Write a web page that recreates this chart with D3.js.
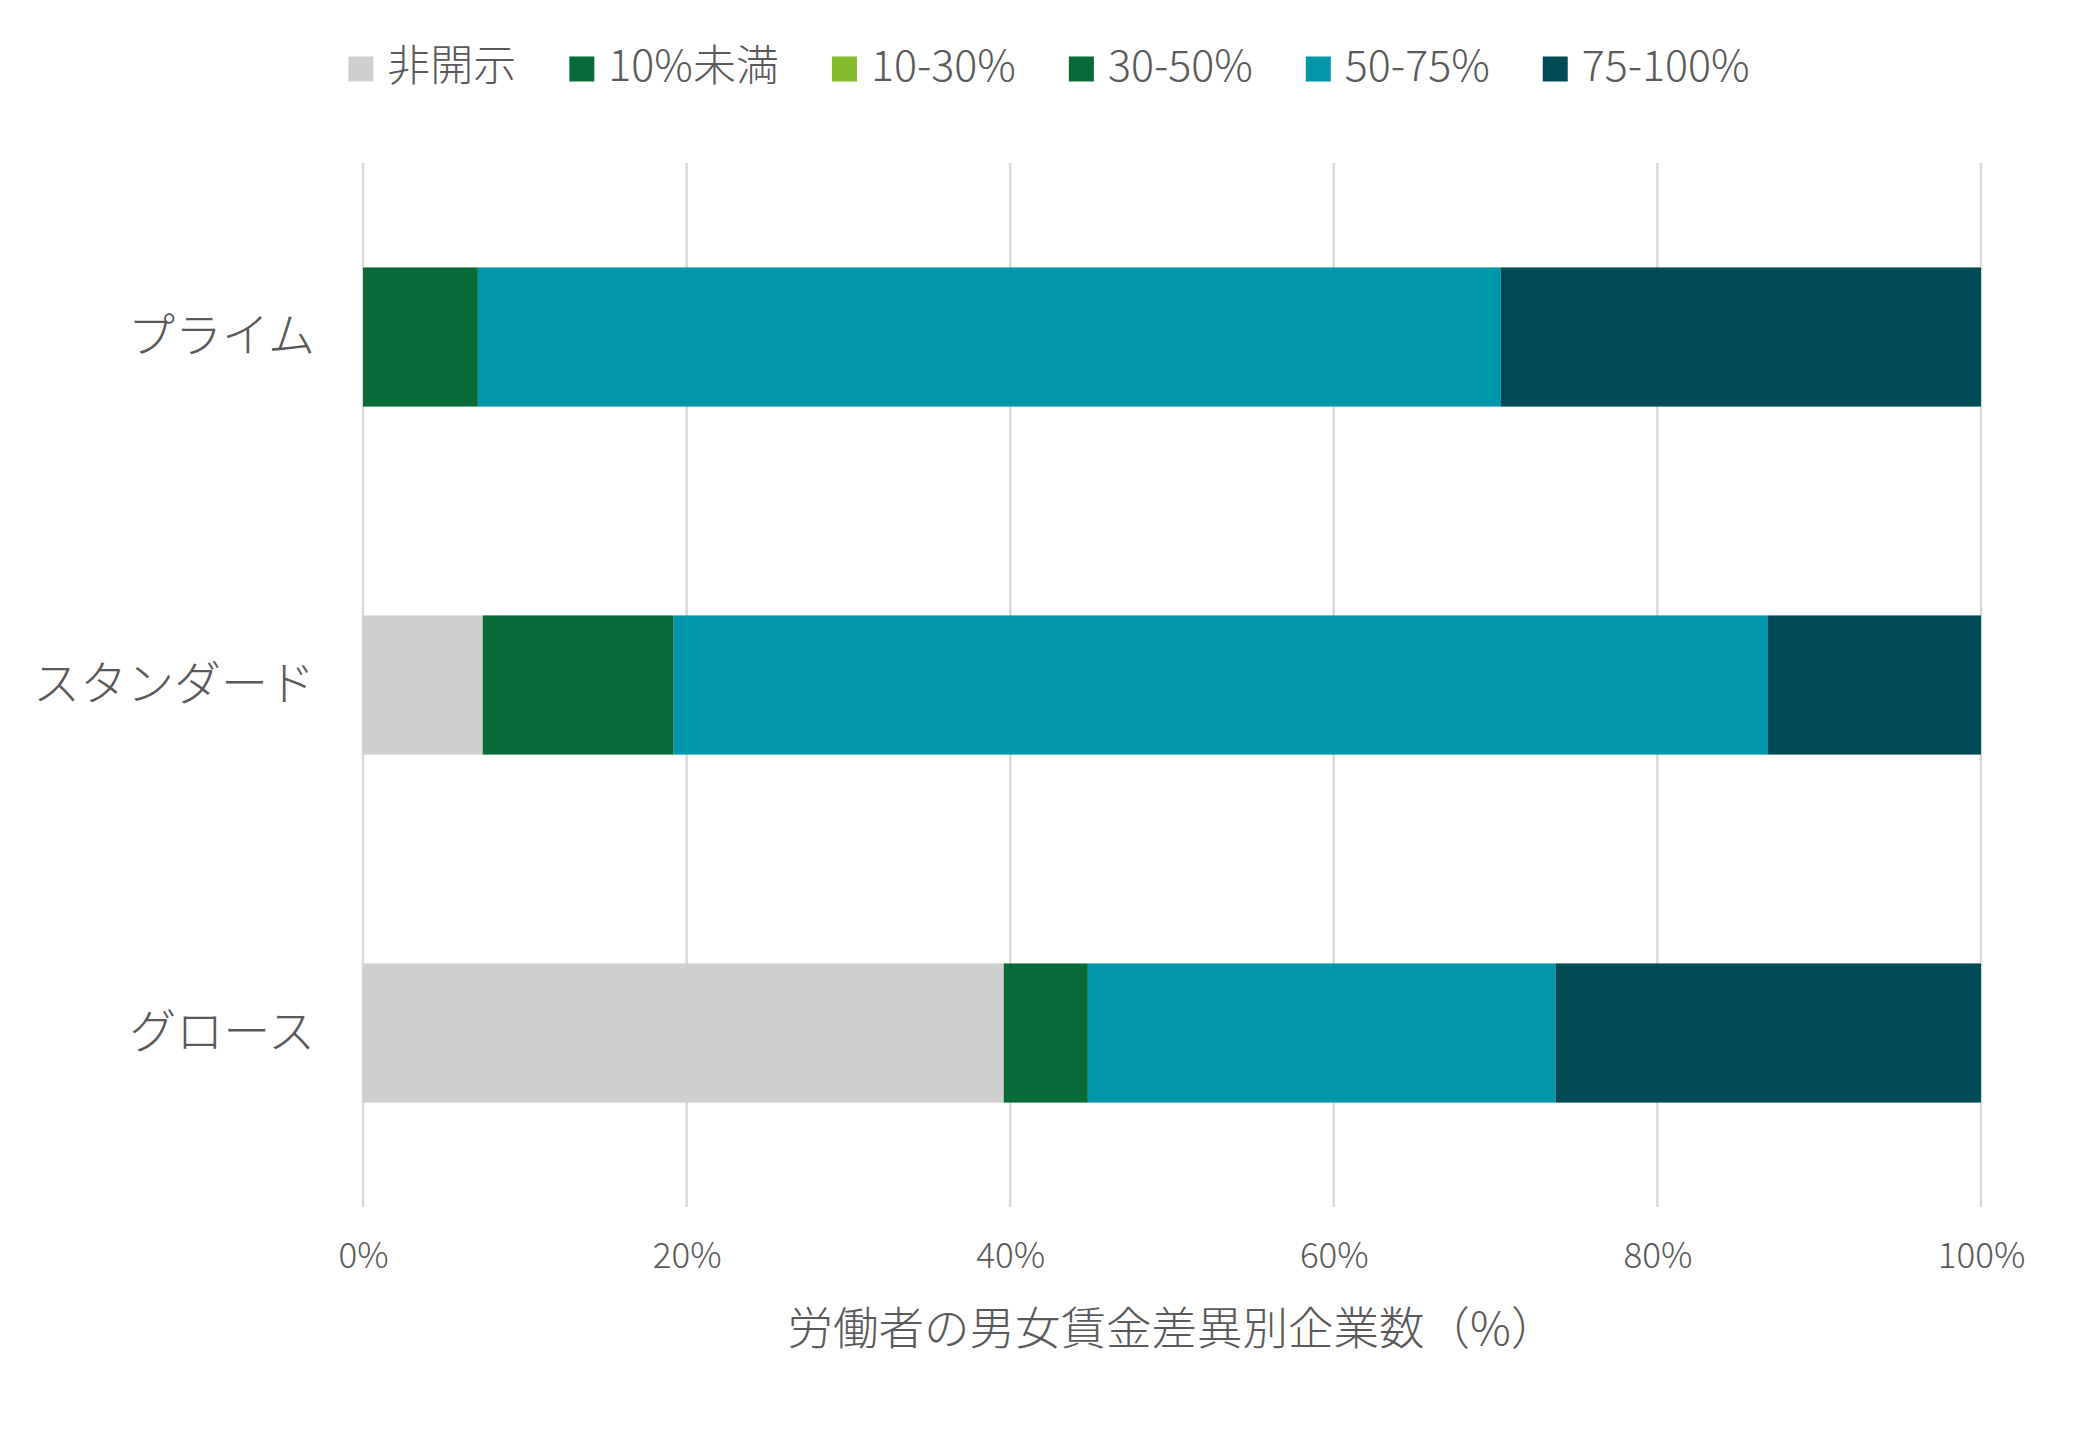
<!DOCTYPE html>
<html>
<head>
<meta charset="utf-8">
<script src="https://cdn.jsdelivr.net/npm/d3@7"></script>
<style>
  body { margin: 0; background: #fff; }
  text { font-family: "Noto Sans CJK JP", "Noto Sans", sans-serif; fill: #595959; font-weight: 300; }
</style>
</head>
<body>
<div id="chart"></div>
<script>
// categories (top to bottom)
const markets = ['プライム', 'スタンダード', 'グロース'];
const seriesNames = ['非開示', '10%未満', '10-30%', '30-50%', '50-75%', '75-100%'];
const seriesColors = ['#d0cfd0', '#076a37', '#84bb2b', '#076a37', '#0197aa', '#014b56'];
// share of companies (%) per market, one array per series
const hidden   = [0.0, 7.4, 39.6];
const under10  = [0.0, 0.0, 0.0];
const from10   = [0.0, 0.0, 0.0];
const from30   = [7.1, 11.8, 5.2];
const from50   = [63.2, 67.6, 28.9];
const from75   = [29.7, 13.2, 26.3];
const xTicks = [0, 20, 40, 60, 80, 100];
const xTitle = '労働者の男女賃金差異別企業数（%）';

const W = 2079, H = 1429;
const margin = { top: 163, right: 98, bottom: 222, left: 363 };
const innerW = W - margin.left - margin.right;
const innerH = H - margin.top - margin.bottom;

const values = [hidden, under10, from10, from30, from50, from75];
const rows = markets.map((m, i) => {
    const row = { market: m };
    seriesNames.forEach((s, j) => { row[s] = values[j][i]; });
    return row;
});
const stacked = d3.stack().keys(seriesNames)(rows);

const x = d3.scaleLinear().domain([0, 100]).range([0, innerW]);
const y = d3.scaleBand().domain(markets).range([0, innerH]).paddingInner(0.6).paddingOuter(0.3);
const color = d3.scaleOrdinal().domain(seriesNames).range(seriesColors);

const svg = d3.select('#chart').append('svg')
    .attr('width', W)
    .attr('height', H);

const g = svg.append('g')
    .attr('transform', `translate(${margin.left}, ${margin.top})`);

/** grid lines */
g.selectAll('line.grid')
    .data(xTicks)
    .enter()
    .append('line')
    .attr('class', 'grid')
    .attr('x1', d => x(d))
    .attr('x2', d => x(d))
    .attr('y1', 0)
    .attr('y2', innerH)
    .style('stroke', '#d9d9d9')
    .style('stroke-width', 2.5);

/** stacked bars */
g.selectAll('g.series')
    .data(stacked)
    .enter()
    .append('g')
    .attr('class', 'series')
    .attr('fill', d => color(d.key))
    .selectAll('rect')
    .data(d => d)
    .enter()
    .append('rect')
    .attr('x', d => x(d[0]))
    .attr('width', d => x(d[1]) - x(d[0]))
    .attr('y', d => y(d.data.market))
    .attr('height', y.bandwidth());

/** x axis labels */
const xAxis = g.append('g')
    .attr('transform', `translate(0, ${innerH})`)
    .call(d3.axisBottom(x).tickValues(xTicks).tickFormat(d => d + '%').tickSize(0).tickPadding(36));
xAxis.select('.domain').remove();
xAxis.selectAll('text')
    .style('font-size', '35px')
    .style('fill', '#595959');

/** category labels */
const yAxis = g.append('g')
    .call(d3.axisLeft(y).tickSize(0).tickPadding(48));
yAxis.select('.domain').remove();
yAxis.selectAll('text')
    .style('font-size', '47px')
    .style('fill', '#595959');

/** axis title */
svg.append('text')
    .attr('x', margin.left + innerW / 2)
    .attr('y', 1333)
    .attr('text-anchor', 'middle')
    .attr('dominant-baseline', 'middle')
    .style('font-size', '45.5px')
    .text(xTitle);

/** legend */
const SW = 25, SWGAP = 14, ITEMGAP = 53;
const legend = svg.append('g');
const items = legend.selectAll('g')
    .data(seriesNames)
    .enter()
    .append('g');
items.append('rect')
    .attr('width', SW)
    .attr('height', SW)
    .attr('y', -SW / 2)
    .attr('fill', d => color(d));
items.append('text')
    .attr('x', SW + SWGAP)
    .attr('dominant-baseline', 'middle')
    .style('font-size', '43px')
    .text(d => d);

let offset = 0;
items.each(function () {
    const w = SW + SWGAP + d3.select(this).select('text').node().getComputedTextLength();
    d3.select(this).attr('transform', `translate(${offset}, 0)`);
    offset += w + ITEMGAP;
});
const legendW = offset - ITEMGAP;
legend.attr('transform', `translate(${1049 - legendW / 2}, 69)`);
</script>
</body>
</html>
